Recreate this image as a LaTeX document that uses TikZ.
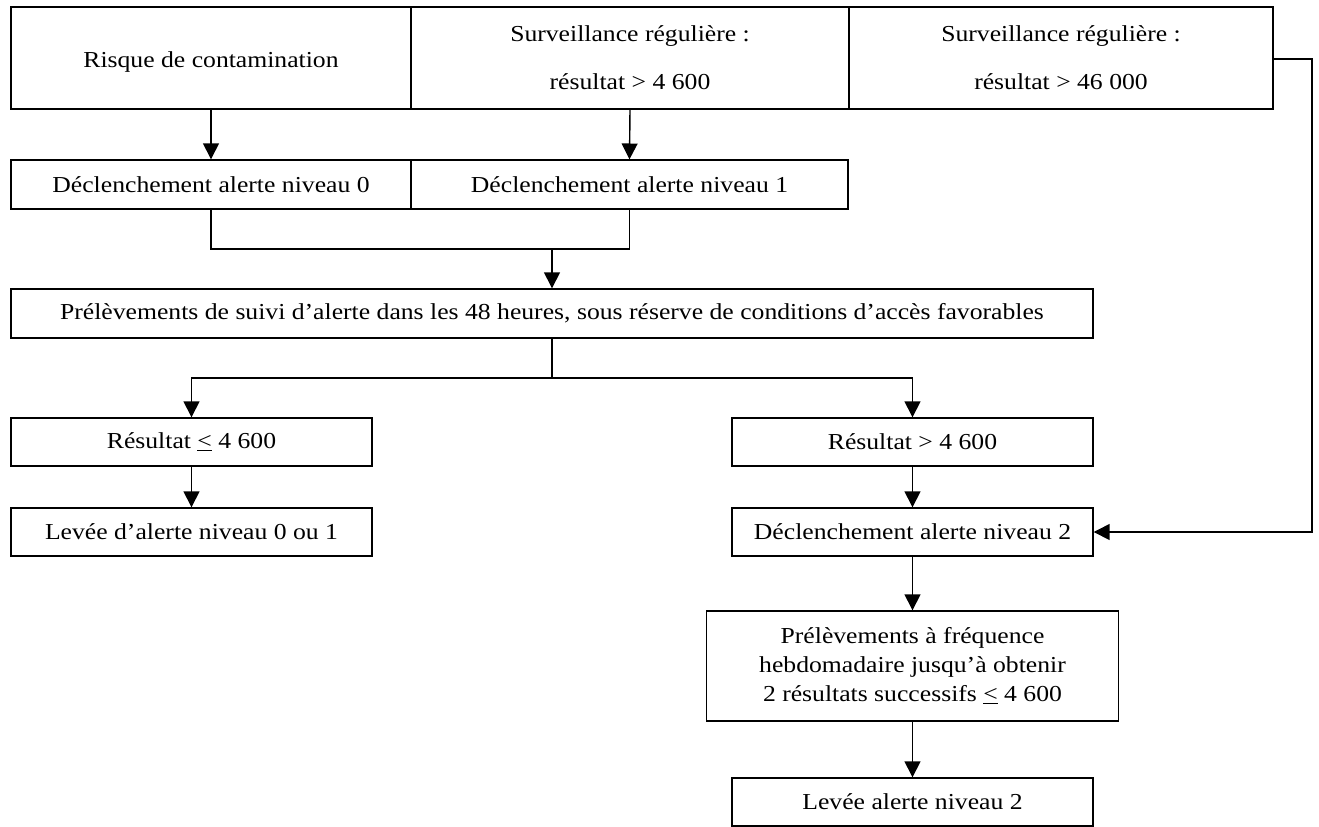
\documentclass[tikz,border=0pt]{standalone}
\usepackage{fontspec}
\setmainfont{Liberation Serif}[FakeStretch=1.124]
\usetikzlibrary{arrows.meta, positioning}
\tikzset{
  every picture/.style={line width=0.8pt},
  box/.style={draw, fill=white, align=center, inner sep=2pt, font=\fontsize{13}{16.5}\selectfont},
  arrow/.style={-{Triangle[length=9pt, width=9pt]}},
}

\begin{document}
\begin{tikzpicture}[x=0.02cm, y=-0.02cm]
  \useasboundingbox (0,0) rectangle (1319,826);
  % top row
  \node[box, minimum width=400*0.02cm, minimum height=102*0.02cm] (risque) at (211,58) {\raisebox{-2.3pt}[\height][\depth]{Risque de contamination}};
  \node[box, minimum width=438*0.02cm, minimum height=102*0.02cm] (surv1) at (630,58) {Surveillance régulière :\\[10.8pt] résultat > 4 600};
  \node[box, minimum width=424*0.02cm, minimum height=102*0.02cm] (surv2) at (1061,58) {Surveillance régulière :\\[10.8pt] résultat > 46 000};
  % alert levels 0 and 1
  \node[box, minimum width=400*0.02cm, minimum height=49*0.02cm] (niv0) at (211,184.5) {Déclenchement alerte niveau 0};
  \node[box, minimum width=437*0.02cm, minimum height=49*0.02cm] (niv1) at (629.5,184.5) {Déclenchement alerte niveau 1};
  \node[box, minimum width=1082*0.02cm, minimum height=49*0.02cm] (prel) at (552,313.5) {Prélèvements de suivi d’alerte dans les 48 heures, sous réserve de conditions d’accès favorables};
  % left branch
  \node[box, minimum width=361*0.02cm, minimum height=48*0.02cm] (resinf) at (191.5,442) {Résultat \underline{<} 4 600};
  \node[box, minimum width=361*0.02cm, minimum height=48*0.02cm] (levee01) at (191.5,532) {Levée d’alerte niveau 0 ou 1};
  % right branch
  \node[box, minimum width=361*0.02cm, minimum height=48*0.02cm] (ressup) at (912.5,442) {Résultat > 4 600};
  \node[box, minimum width=361*0.02cm, minimum height=48*0.02cm] (decl2) at (912.5,532) {Déclenchement alerte niveau 2};
  \node[box, minimum width=412*0.02cm, minimum height=110*0.02cm] (hebdo) at (912.5,666) {Prélèvements à fréquence\\hebdomadaire jusqu’à obtenir\\2 résultats successifs \underline{<} 4 600};
  \node[box, minimum width=361*0.02cm, minimum height=48*0.02cm] (levee2) at (912.5,802) {Levée alerte niveau 2};

  \coordinate (join0) at (552,249);
  \coordinate (split) at (552,378);
  \coordinate (rturn) at (1312,59);

  \draw[arrow] (risque.south) -- (niv0.north);
  \draw[arrow] (surv1.south) -- (niv1.north);
  \draw (niv0.south) |- (niv1.south |- join0) -- (niv1.south);
  \draw[arrow] (join0) -- (prel.north);
  \draw (prel.south) -- (split);
  \draw[arrow] (split) -| (resinf.north);
  \draw[arrow] (split) -| (ressup.north);
  \draw[arrow] (resinf.south) -- (levee01.north);
  \draw[arrow] (ressup.south) -- (decl2.north);
  \draw[arrow] (decl2.south) -- (hebdo.north);
  \draw[arrow] (hebdo.south) -- (levee2.north);
  % level 2 straight from the top
  \draw[arrow] (surv2.east |- rturn) -- (rturn) |- (decl2.east);
\end{tikzpicture}
\end{document}
